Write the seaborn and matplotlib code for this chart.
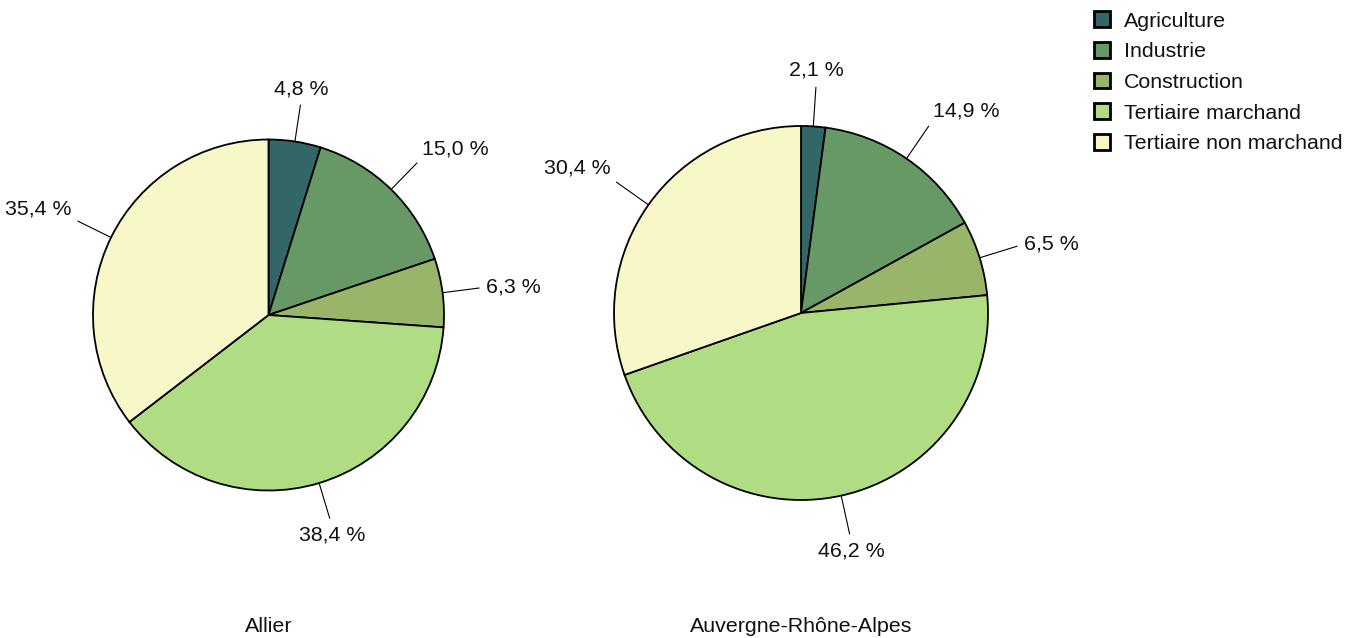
import numpy as np
import matplotlib
matplotlib.use("Agg")
import matplotlib.pyplot as plt
import seaborn as sns
from matplotlib.patches import Patch

sectors = ["Agriculture", "Industrie", "Construction", "Tertiaire marchand", "Tertiaire non marchand"]
allier = [4.8, 15.0, 6.3, 38.4, 35.4]
aura = [2.1, 14.9, 6.5, 46.2, 30.4]
titles = ["Allier", "Auvergne-Rhône-Alpes"]
colors_hex = ["#336666", "#669966", "#99b56a", "#b0dc84", "#f7f7c8"]

sns.set_theme(style="white")
plt.rcParams['font.family'] = ['Liberation Sans', 'DejaVu Sans']
palette = sns.color_palette(colors_hex)

W, H = 1348, 638
fig = plt.figure(figsize=(W / 100, H / 100), dpi=100)

# layout: (center x px, center y px, radius px)
layouts = [(268.5, 315, 175.5), (801, 313, 187)]
FS = 15.4


def fmt(v):
    return f"{v:.1f}".replace(".", ",") + " %"


for (cx, cy, r), vals, title in zip(layouts, [allier, aura], titles):
    half = 1.05 * r
    ax = fig.add_axes([(cx - half) / W, (H - cy - half) / H, 2 * half / W, 2 * half / H])
    wedges, _ = ax.pie(vals, colors=palette, startangle=90, counterclock=False,
                       wedgeprops=dict(edgecolor="black", linewidth=1.3))
    ax.set_xlim(-1.05, 1.05)
    ax.set_ylim(-1.05, 1.05)
    ax.set_aspect("equal")
    ax.axis("off")
    for w, v in zip(wedges, vals):
        ang = np.deg2rad((w.theta1 + w.theta2) / 2)
        c, s = np.cos(ang), np.sin(ang)
        ax.plot([c, 1.21 * c], [s, 1.21 * s], color="black", lw=0.8, clip_on=False)
        ha = "left" if c > 0.35 else ("right" if c < -0.35 else "center")
        if c < -0.35:
            va = "bottom"
        else:
            va = "bottom" if s > 0.6 else ("top" if s < -0.6 else "center")
        d = 1.25
        ax.text(d * c, d * s, fmt(v), ha=ha, va=va, fontsize=FS, color="#111111", clip_on=False)
    fig.text(cx / W, 1 - 627 / H, title, ha="center", va="center", fontsize=FS, color="#111111")

handles = [Patch(facecolor=col, edgecolor="black", linewidth=2.0) for col in palette]
fig.legend(handles, sectors, loc="upper left", bbox_to_anchor=(1088 / W, 1 - 5 / H),
           frameon=False, fontsize=FS, handlelength=0.74, handleheight=0.74,
           handletextpad=0.62, labelspacing=0.535, borderaxespad=0, borderpad=0.3,
           labelcolor="#111111")

fig.savefig("out.png", dpi=100, facecolor="white")
